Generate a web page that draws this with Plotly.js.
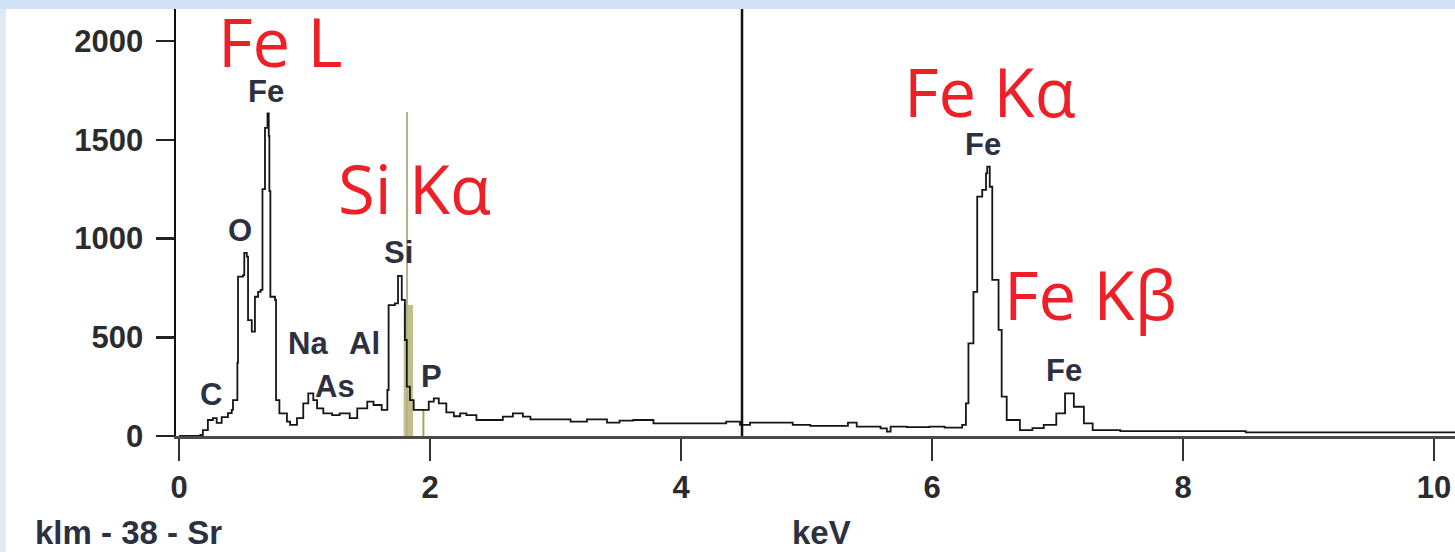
<!DOCTYPE html>
<html>
<head>
<meta charset="utf-8">
<script src="https://cdn.plot.ly/plotly-3.0.1.min.js"></script>
<style>
  html, body { margin: 0; padding: 0; width: 1455px; height: 552px; overflow: hidden; background: #cfe1f2; }
  #strip { position: absolute; left: 0; top: 9px; width: 6px; height: 543px; background: #dde9f5; }
  #chart { position: absolute; left: 6px; top: 9px; width: 1449px; height: 543px; background: #ffffff; }
</style>
</head>
<body>
<div id="strip"></div>
<div id="chart"></div>
<script>
// EDS spectrum, sample klm - 38 - Sr
const energyKeV = [
  0.00, 0.10, 0.17, 0.19, 0.23, 0.27, 0.30, 0.34, 0.39, 0.42, 0.43, 0.465, 0.47, 0.51, 0.52, 0.54,
  0.55, 0.58, 0.605, 0.63, 0.65, 0.665, 0.685, 0.705, 0.715, 0.72, 0.728, 0.765, 0.773, 0.80, 0.86,
  0.885, 0.94, 0.99, 1.03, 1.07, 1.10, 1.15, 1.22, 1.28, 1.36, 1.42, 1.50, 1.55, 1.615, 1.66, 1.67,
  1.72, 1.745, 1.775, 1.80, 1.815, 1.84, 1.87, 1.93, 1.99, 2.03, 2.07, 2.13, 2.19, 2.24, 2.29, 2.37,
  2.50, 2.58, 2.66, 2.74, 2.80, 3.04, 3.12, 3.25, 3.41, 3.51, 3.62, 3.73, 3.78, 4.26, 4.36, 4.47,
  4.55, 4.79, 4.89, 5.03, 5.21, 5.33, 5.40, 5.59, 5.64, 5.67, 5.80, 5.98, 6.10, 6.24, 6.27, 6.29,
  6.33, 6.36, 6.40, 6.43, 6.44, 6.46, 6.48, 6.53, 6.555, 6.595, 6.70, 6.80, 6.89, 6.99, 7.06, 7.13,
  7.21, 7.28, 7.50, 7.80, 8.50, 9.50, 10.17
];
const counts = [
  0, 0, 5, 30, 81, 91, 66, 96, 116, 132, 182, 370, 807, 815, 927, 908,
  587, 528, 705, 730, 740, 1250, 1560, 1634, 1520, 1240, 705, 689, 182, 115, 73,
  56, 90, 165, 216, 182, 140, 115, 106, 115, 90, 140, 174, 157, 132, 233, 663,
  672, 810, 689, 486, 250, 182, 132, 132, 174, 191, 165, 120, 100, 115, 106, 81,
  81, 98, 115, 98, 84, 84, 73, 84, 68, 78, 81, 81, 64, 64, 73, 56,
  68, 68, 56, 51, 51, 68, 47, 39, 22, 47, 45, 47, 42, 56, 165, 469,
  730, 1212, 1246, 1330, 1364, 1262, 790, 537, 199, 81, 30, 40, 56, 115, 216, 148,
  64, 30, 25, 25, 18, 18, 18
];

// axis ticks
const xTicks = [0, 2, 4, 6, 8, 10];
const yTicks = [0, 500, 1000, 1500, 2000];

// element identification labels (software)
const elemText = ['C', 'O', 'Fe', 'Na', 'As', 'Al', 'Si', 'P', 'Fe', 'Fe'];
const elemKeV = [0.255, 0.486, 0.693, 1.028, 1.243, 1.474, 1.745, 2.008, 6.406, 7.052];
const elemCounts = [208, 1038, 1745, 466, 253, 466, 927, 299, 1478, 334];

// line family labels
const lineText = ['Fe L', 'Si K\u03b1', 'Fe K\u03b1', 'Fe K\u03b2'];
const lineKeV = [0.805, 1.873, 6.462, 7.259];
const lineCounts = [2000, 1256, 1745, 719];

// KLM marker lines and the cursor
const markerKeV = [1.817, 1.947];
const markerTop = [1640, 132];
const markerColor = ['#b4b28c', '#a9a55f'];
const bandKeV = [1.79, 1.865];
const bandTop = 663;
const cursorKeV = 4.486;

const trace = {
  x: energyKeV,
  y: counts,
  type: 'scatter',
  mode: 'lines',
  line: { color: '#151515', width: 1.8, shape: 'hv' },
  hoverinfo: 'x+y'
};

const shapes = [];
shapes.push({
  type: 'rect', xref: 'x', yref: 'y', layer: 'below',
  x0: bandKeV[0], x1: bandKeV[1], y0: 0, y1: bandTop,
  fillcolor: '#c3bf8d', line: { width: 0 }
});
markerKeV.forEach((k, i) => {
  shapes.push({
    type: 'line', xref: 'x', yref: 'y', layer: 'below',
    x0: k, x1: k, y0: 0, y1: markerTop[i],
    line: { color: markerColor[i], width: 2 }
  });
});
shapes.push({
  type: 'line', xref: 'x', yref: 'paper',
  x0: cursorKeV, x1: cursorKeV, y0: 0, y1: 1,
  line: { color: '#111111', width: 2.5 }
});

const smallFont = { family: 'Liberation Sans, Arial, sans-serif', size: 31, color: '#2d3040', weight: 'bold' };
const bigFont = { family: 'Open Sans, Noto Sans, sans-serif', size: 67, color: '#ee1f26' };

const annotations = [];
elemText.forEach((t, i) => {
  annotations.push({
    x: elemKeV[i], y: elemCounts[i], xref: 'x', yref: 'y',
    text: t, showarrow: false, xanchor: 'center', yanchor: 'middle', font: smallFont
  });
});
lineText.forEach((t, i) => {
  annotations.push({
    x: lineKeV[i], y: lineCounts[i], xref: 'x', yref: 'y',
    text: t, showarrow: false, xanchor: 'center', yanchor: 'middle', font: bigFont
  });
});
annotations.push({
  x: -0.112, y: -0.225, xref: 'paper', yref: 'paper',
  text: 'klm - 38 - Sr', showarrow: false, xanchor: 'left', yanchor: 'middle',
  font: Object.assign({}, smallFont, { size: 33 })
});
annotations.push({
  x: 0.505, y: -0.225, xref: 'paper', yref: 'paper',
  text: 'keV', showarrow: false, xanchor: 'center', yanchor: 'middle',
  font: Object.assign({}, smallFont, { size: 33 })
});

const tickFont = { family: 'Liberation Sans, Arial, sans-serif', size: 31, color: '#2b2b2b', weight: 'bold' };

const layout = {
  width: 1449,
  height: 543,
  margin: { l: 170, r: 0, t: 0, b: 116 },
  paper_bgcolor: '#ffffff',
  plot_bgcolor: '#ffffff',
  showlegend: false,
  xaxis: {
    range: [-0.024, 10.167],
    tickvals: xTicks,
    ticktext: xTicks.map(String),
    ticks: 'outside', ticklen: 22, tickwidth: 2.5, tickcolor: '#333333',
    showline: true, linecolor: '#4a4a4a', linewidth: 2.5,
    showgrid: false, zeroline: false,
    tickfont: tickFont,
    ticklabelstandoff: 0
  },
  yaxis: {
    range: [0, 2162],
    tickvals: yTicks,
    ticktext: yTicks.map(String),
    ticks: 'outside', ticklen: 18, tickwidth: 2.5, tickcolor: '#222222',
    showline: true, linecolor: '#111111', linewidth: 2.5,
    showgrid: false, zeroline: false,
    tickfont: tickFont,
    ticklabelstandoff: 6
  },
  shapes: shapes,
  annotations: annotations
};

Plotly.newPlot('chart', [trace], layout, { displayModeBar: false, staticPlot: true });
</script>
</body>
</html>
